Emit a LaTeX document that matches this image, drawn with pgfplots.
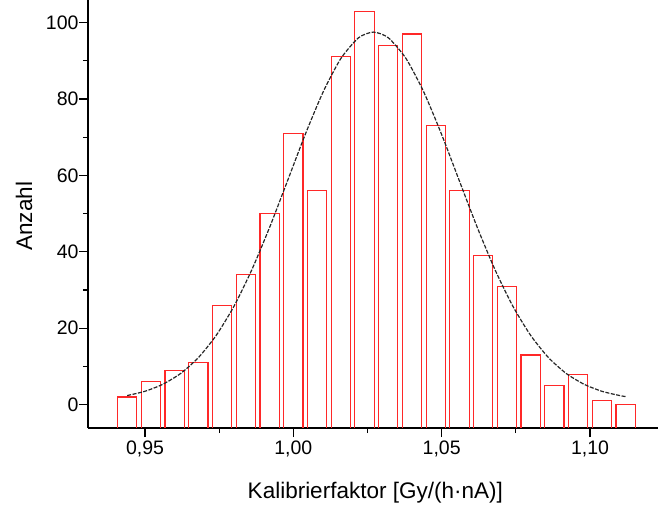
\documentclass[border=0pt]{standalone}
\usepackage{fontspec}
\setmainfont{Liberation Sans}
\usepackage{pgfplots}
\usepackage{pgfplotstable}
\pgfplotsset{compat=1.18}
\definecolor{barred}{RGB}{255,40,40}

% histogram bars (bin width 0.008, drawn width 0.0065), outline of each bar
% counts: 2 6 9 11 26 34 50 71 56 91 103 94 97 73 56 39 31 13 5 8 1 0
\pgfplotstableread{
x        y
0.94075  -6.1
0.94075  2
0.94725  2
0.94725  -6.1
0.94725  nan
0.94875  -6.1
0.94875  6
0.95525  6
0.95525  -6.1
0.95525  nan
0.95675  -6.1
0.95675  9
0.96325  9
0.96325  -6.1
0.96325  nan
0.96475  -6.1
0.96475  11
0.97125  11
0.97125  -6.1
0.97125  nan
0.97275  -6.1
0.97275  26
0.97925  26
0.97925  -6.1
0.97925  nan
0.98075  -6.1
0.98075  34
0.98725  34
0.98725  -6.1
0.98725  nan
0.98875  -6.1
0.98875  50
0.99525  50
0.99525  -6.1
0.99525  nan
0.99675  -6.1
0.99675  71
1.00325  71
1.00325  -6.1
1.00325  nan
1.00475  -6.1
1.00475  56
1.01125  56
1.01125  -6.1
1.01125  nan
1.01275  -6.1
1.01275  91
1.01925  91
1.01925  -6.1
1.01925  nan
1.02075  -6.1
1.02075  103
1.02725  103
1.02725  -6.1
1.02725  nan
1.02875  -6.1
1.02875  94
1.03525  94
1.03525  -6.1
1.03525  nan
1.03675  -6.1
1.03675  97
1.04325  97
1.04325  -6.1
1.04325  nan
1.04475  -6.1
1.04475  73
1.05125  73
1.05125  -6.1
1.05125  nan
1.05275  -6.1
1.05275  56
1.05925  56
1.05925  -6.1
1.05925  nan
1.06075  -6.1
1.06075  39
1.06725  39
1.06725  -6.1
1.06725  nan
1.06875  -6.1
1.06875  31
1.07525  31
1.07525  -6.1
1.07525  nan
1.07675  -6.1
1.07675  13
1.08325  13
1.08325  -6.1
1.08325  nan
1.08475  -6.1
1.08475  5
1.09125  5
1.09125  -6.1
1.09125  nan
1.09275  -6.1
1.09275  8
1.09925  8
1.09925  -6.1
1.09925  nan
1.10075  -6.1
1.10075  1
1.10725  1
1.10725  -6.1
1.10725  nan
1.10875  -6.1
1.10875  0
1.11525  0
1.11525  -6.1
}\histdata

% Gaussian fit curve
\pgfplotstableread{
x      y
0.944  2.39
0.950  3.51
0.956  5.34
0.962  8.16
0.968  12.32
0.974  18.13
0.980  25.77
0.986  35.29
0.992  46.39
0.998  58.50
1.004  70.69
1.010  81.77
1.016  90.57
1.022  96.03
1.027  97.50
1.032  96.03
1.038  90.57
1.044  81.77
1.050  70.69
1.056  58.50
1.062  46.39
1.068  35.29
1.074  25.77
1.080  18.13
1.086  12.32
1.092  8.16
1.098  5.34
1.104  3.51
1.110  2.39
1.112  2.13
}\fitdata

\begin{document}
\begin{tikzpicture}
\useasboundingbox (-88bp,-81bp) rectangle (570bp,428bp);
\begin{axis}[
  at={(0,0)}, anchor=south west,
  scale only axis, width=570bp, height=428bp,
  xmin=0.93079, xmax=1.12292, ymin=-6.1, ymax=105.9,
  axis lines*=left,
  axis line style={line width=1.2bp, black},
  xtick={0.95,1.00,1.05,1.10}, minor xtick={0.975,1.025,1.075},
  ytick={0,20,40,60,80,100}, minor ytick={10,30,50,70,90},
  tick align=outside,
  major tick length=9bp, minor tick length=5bp,
  every tick/.style={line width=1.2bp, black},
  ticklabel style={font=\fontsize{19.5bp}{21bp}\selectfont},
  x tick label style={/pgf/number format/.cd, use comma, fixed, fixed zerofill, precision=2, assume math mode=true},
  y tick label style={xshift=3bp, /pgf/number format/.cd, assume math mode=true},
  scaled x ticks=false,
  unbounded coords=jump,
  xlabel={Kalibrierfaktor [Gy/(h·nA)]},
  ylabel={Anzahl},
  xlabel style={at={(axis description cs:0.504,-0.1636)}, anchor=base, font=\fontsize{22.5bp}{24bp}\selectfont},
  ylabel style={at={(axis description cs:-0.0982,0.495)}, anchor=base, font=\fontsize{22.5bp}{24bp}\selectfont},
  clip=false,
]
\addplot[draw=barred, line width=1.1bp, no markers, line join=miter] table[x=x, y=y] {\histdata};
\addplot[black!85, line width=1.2bp, dash pattern=on 4bp off 1.5bp, smooth, tension=0.4, no markers] table[x=x, y=y] {\fitdata};
\end{axis}
\end{tikzpicture}
\end{document}
